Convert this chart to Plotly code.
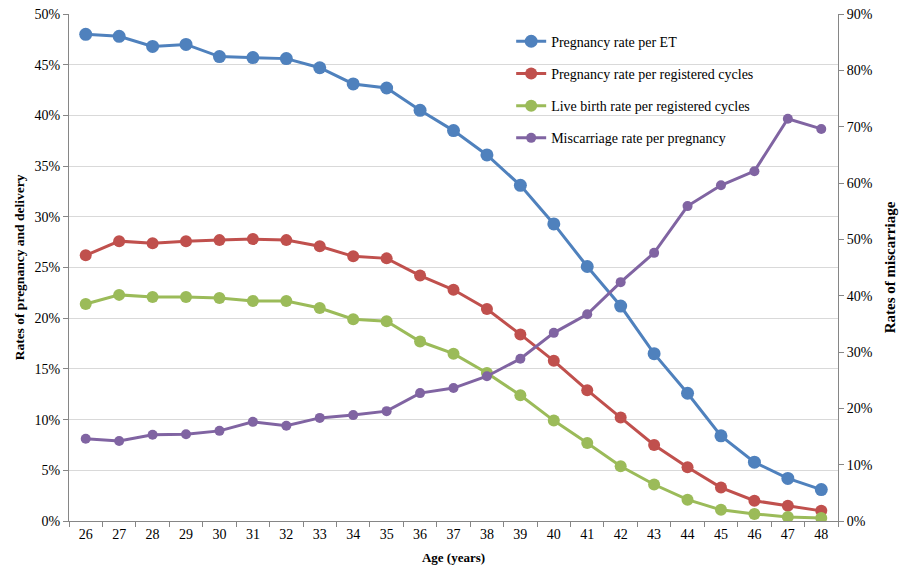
import plotly.graph_objects as go

ages = [str(a) for a in range(26, 49)]

preg_per_et = [48.0, 47.8, 46.8, 47.0, 45.8, 45.7, 45.6, 44.7, 43.1, 42.7, 40.5, 38.5,
               36.1, 33.1, 29.3, 25.1, 21.2, 16.5, 12.6, 8.4, 5.8, 4.2, 3.1]
preg_per_cycle = [26.2, 27.6, 27.4, 27.6, 27.7, 27.8, 27.7, 27.1, 26.1, 25.9, 24.2, 22.8,
                  20.9, 18.4, 15.8, 12.9, 10.2, 7.5, 5.3, 3.3, 2.0, 1.5, 1.0]
live_birth = [21.4, 22.3, 22.1, 22.1, 22.0, 21.7, 21.7, 21.0, 19.9, 19.7, 17.7, 16.5,
              14.6, 12.4, 9.9, 7.7, 5.4, 3.6, 2.1, 1.1, 0.7, 0.4, 0.3]
miscarriage = [14.6, 14.2, 15.3, 15.4, 16.0, 17.6, 16.9, 18.3, 18.8, 19.5, 22.7, 23.6,
               25.7, 28.8, 33.4, 36.7, 42.4, 47.6, 55.9, 59.6, 62.1, 71.4, 69.6]

names = ["Pregnancy rate per ET", "Pregnancy rate per registered cycles",
         "Live birth rate per registered cycles", "Miscarriage rate per pregnancy"]
colors = ["#4F81BD", "#C0504D", "#9BBB59", "#8064A2"]

FONT = "Liberation Serif, Times New Roman, serif"

fig = go.Figure()
series = [preg_per_et, preg_per_cycle, live_birth]
msizes = [13, 12, 12]
for i, vals in enumerate(series):
    fig.add_trace(go.Scatter(
        x=ages, y=[v / 100 for v in vals], name=names[i], mode="lines+markers",
        line=dict(color=colors[i], width=3),
        marker=dict(color=colors[i], size=msizes[i]),
        legendgroup=str(i), yaxis="y"))
fig.add_trace(go.Scatter(
    x=ages, y=[v / 100 for v in miscarriage], name=names[3], mode="lines+markers",
    line=dict(color=colors[3], width=3),
    marker=dict(color=colors[3], size=10),
    legendgroup="3", yaxis="y2"))

fig.update_layout(
    width=909, height=568,
    margin=dict(l=69, r=71, t=14, b=47, autoexpand=False),
    paper_bgcolor="white", plot_bgcolor="white",
    font=dict(family=FONT, size=14, color="#000000"),
    showlegend=True,
    legend=dict(x=0.575, y=0.977, xanchor="left", yanchor="top",
                bgcolor="rgba(0,0,0,0)", font=dict(size=14, family=FONT),
                tracegroupgap=11, itemwidth=30),
    xaxis=dict(
        type="category", range=[-0.5, len(ages) - 0.5], showgrid=False,
        showline=True, linecolor="#868686",
        linewidth=1, ticks="outside", tickson="boundaries", ticklen=5,
        tickcolor="#868686", tickfont=dict(size=14, family=FONT), automargin=False,
        title=dict(text="<b>Age (years)</b>", font=dict(size=13, family=FONT), standoff=12),
    ),
    yaxis=dict(
        range=[0, 0.5], dtick=0.05, tickformat=".0%", showgrid=True,
        gridcolor="#D9D9D9", gridwidth=1, showline=True, linecolor="#868686",
        ticks="outside", ticklen=5, tickcolor="#868686", zeroline=False,
        tickfont=dict(size=14, family=FONT), automargin=False,
        title=dict(text="<b>Rates of pregnancy and delivery</b>",
                   font=dict(size=13.5, family=FONT), standoff=6),
    ),
    yaxis2=dict(
        range=[0, 0.9], dtick=0.1, tickformat=".0%", overlaying="y", side="right",
        showgrid=False, showline=True, linecolor="#868686", ticks="outside",
        ticklen=5, tickcolor="#868686", zeroline=False,
        tickfont=dict(size=14, family=FONT), automargin=False,
        title=dict(text="<b>Rates of miscarriage</b>",
                   font=dict(size=15, family=FONT), standoff=12),
    ),
)

fig.write_html("out.html", config={"displayModeBar": False},
               post_script="document.body.style.margin='0';document.body.style.padding='0';")
